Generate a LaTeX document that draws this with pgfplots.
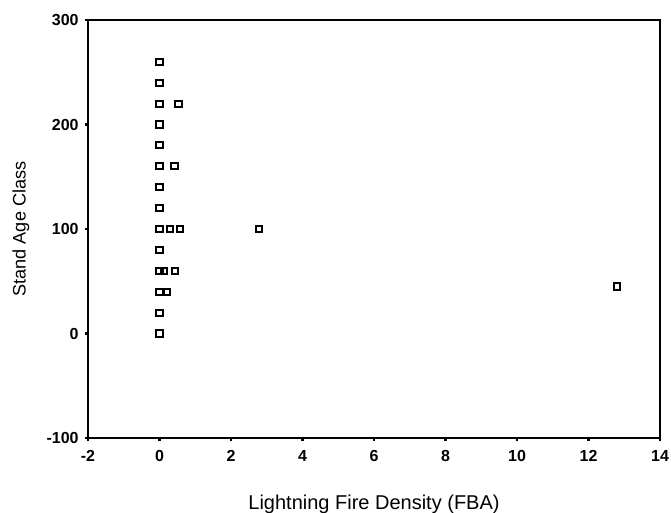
\documentclass[border=0pt]{standalone}
\usepackage{fontspec}
\setmainfont{Liberation Sans}
\usepackage{pgfplots}
\pgfplotsset{compat=1.18}
\begin{document}
\begin{tikzpicture}
\begin{axis}[
  scale only axis,
  width=429pt, height=313.5pt,
  xmin=-2, xmax=14, ymin=-100, ymax=300,
  xtick={-2,0,...,14}, ytick={-100,0,100,200,300},
  tick align=outside, major tick length=2.5pt,
  xtick pos=bottom, ytick pos=left,
  tick style={black, line width=1.6pt},
  axis line style={black, line width=1.6pt},
  /pgf/number format/assume math mode=true,
  ticklabel style={font=\fontsize{12}{14}\selectfont\bfseries},
  xticklabel style={yshift=-3pt},
  yticklabel style={xshift=-1pt},
  xlabel={Lightning Fire Density (FBA)},
  ylabel={Stand Age Class},
  xlabel style={font=\fontsize{15}{17}\selectfont, yshift=-18pt},
  ylabel style={font=\fontsize{13.6}{16}\selectfont, yshift=6pt},
]
\addplot[only marks, mark=square, mark size=2.3pt, line width=1.5pt, black] coordinates {
(0,0) (0,20) (0,40) (0,60) (0,80) (0,100) (0,120) (0,140) (0,160) (0,180) (0,200) (0,220) (0,240) (0,260)
(0.53,220) (0.42,160) (0.3,100) (0.58,100) (0.12,60) (0.43,60) (0.22,40) (2.78,100) (12.8,45)
};
\coordinate (ll) at (rel axis cs:0,0);
\coordinate (ur) at (rel axis cs:1,1);
\end{axis}
\pgfresetboundingbox
\path ([shift={(-66pt,-56.25pt)}]ll) rectangle ([shift={(8.25pt,15pt)}]ur);
\end{tikzpicture}
\end{document}
